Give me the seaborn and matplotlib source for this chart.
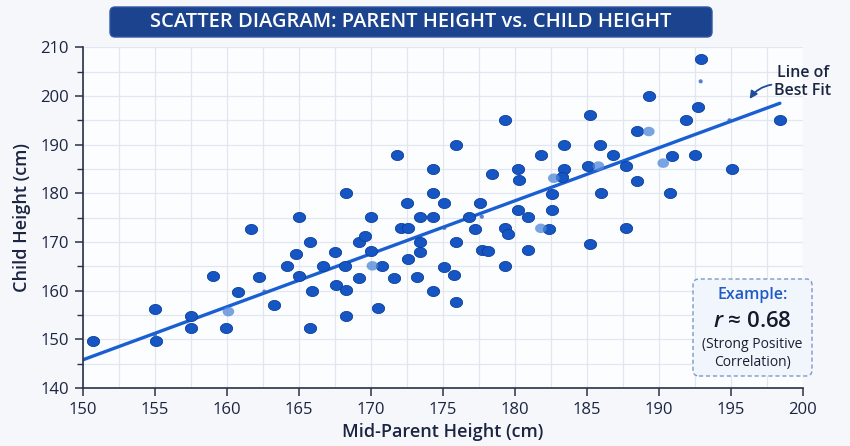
import matplotlib.pyplot as plt
import numpy as np
import seaborn as sns
import pandas as pd
from matplotlib.path import Path
from matplotlib.patches import FancyBboxPatch
from matplotlib.ticker import MultipleLocator

# ===== data =====
parent_height = [150.7, 155.0, 155.1, 157.5, 157.5, 159.0, 159.9, 160.8, 161.7, 162.2,
                 163.3, 164.2, 164.8, 165.0, 165.8, 165.0, 165.9, 165.8, 166.7, 167.5,
                 167.6, 168.3, 168.2, 168.3, 168.3, 169.2, 169.2, 169.6, 170.0, 170.0,
                 170.8, 170.5, 171.6, 171.8, 172.1, 172.6, 172.5, 172.6, 173.2, 173.4,
                 173.4, 173.4, 174.3, 174.3, 174.3, 174.3, 175.1, 175.1, 175.9, 175.9,
                 175.8, 175.9, 176.8, 177.6, 177.2, 177.7, 178.1, 178.4, 179.3, 179.3,
                 179.5, 179.3, 180.2, 180.3, 180.2, 180.9, 180.9, 181.8, 182.4, 183.4,
                 183.4, 183.3, 182.6, 182.6, 185.2, 185.1, 185.9, 186.8, 187.7, 186.0,
                 188.5, 187.7, 185.2, 188.5, 189.3, 190.9, 190.8, 191.9, 192.5, 192.7,
                 192.9, 195.1, 198.4]
child_height = [149.7, 156.2, 149.6, 154.7, 152.4, 163.0, 152.3, 159.8, 172.7, 162.8,
                157.1, 165.1, 167.6, 175.1, 170.0, 163.1, 160.0, 152.4, 165.0, 168.0,
                161.2, 180.0, 165.1, 160.1, 154.8, 162.7, 170.0, 171.3, 175.1, 168.1,
                165.0, 156.4, 162.7, 187.8, 172.8, 172.8, 178.0, 166.6, 162.8, 175.1,
                169.9, 168.0, 184.9, 180.0, 175.1, 160.0, 178.0, 164.8, 189.9, 169.9,
                163.2, 157.7, 175.2, 178.0, 172.7, 168.3, 168.1, 184.0, 195.0, 172.8,
                171.7, 165.1, 185.0, 182.7, 176.6, 175.1, 168.3, 187.8, 172.7, 190.0,
                184.9, 183.3, 179.9, 176.6, 196.1, 185.7, 189.9, 187.9, 185.6, 180.0,
                182.6, 172.8, 169.5, 192.7, 199.9, 187.7, 180.0, 195.0, 187.8, 197.8,
                207.5, 185.0, 195.0]

# lighter, blurred points
faint_parent = [160.1, 170.1, 181.8, 182.7, 189.3, 190.3, 185.8]
faint_child = [155.7, 165.1, 172.8, 183.1, 192.7, 186.2, 185.6]

# tiny specks
tiny_parent = [155.0, 162.6, 177.7, 175.1, 192.9, 194.9]
tiny_child = [150.8, 159.8, 175.2, 172.9, 203.0, 195.0]

# line of best fit (end points)
fit_x = [150.0, 198.4]
fit_y = [145.8, 198.5]

x_ticks = [150, 155, 160, 165, 170, 175, 180, 185, 190, 195, 200]
y_ticks = [140, 150, 160, 170, 180, 190, 200, 210]
r_value = 0.68

points = pd.DataFrame({'parent': parent_height, 'child': child_height})
faint = pd.DataFrame({'parent': faint_parent, 'child': faint_child})
tiny = pd.DataFrame({'parent': tiny_parent, 'child': tiny_child})
fit = pd.DataFrame({'parent': fit_x, 'child': fit_y})

# ===== style =====
sns.set_theme(style="white")
plt.rcParams['font.family'] = ['Open Sans', 'DejaVu Sans']
plt.rcParams['mathtext.fontset'] = 'custom'
plt.rcParams['mathtext.it'] = 'Open Sans:italic:semibold'
plt.rcParams['mathtext.rm'] = 'Open Sans'

navy = '#1b2542'
dot = '#1556c4'
dot_edge = '#0d3e98'

fig = plt.figure(figsize=(8.5, 4.46), dpi=100, facecolor='#f5f7fb')
ax = fig.add_axes([0.0976, 0.130, 0.847, 0.764])
ax.set_facecolor('#fcfdff')

# ellipse marker, a bit wider than tall
t = np.linspace(0, 2 * np.pi, 41)
ellipse = Path(np.column_stack([np.cos(t), 0.82 * np.sin(t)]))

sns.lineplot(data=fit, x='parent', y='child', color='#1a5fd2', linewidth=2.4, ax=ax, zorder=2)
sns.scatterplot(data=points, x='parent', y='child', marker=ellipse, s=78,
                color=dot, edgecolor=dot_edge, linewidth=0.6, ax=ax, zorder=3)
sns.scatterplot(data=faint, x='parent', y='child', marker=ellipse, s=70,
                color='#4f86d8', edgecolor='none', alpha=0.75, ax=ax, zorder=3)
sns.scatterplot(data=tiny, x='parent', y='child', marker='o', s=9,
                color='#2c62c4', edgecolor='none', alpha=0.8, ax=ax, zorder=3)

# axes, ticks, grid
ax.set_xlim(150, 200)
ax.set_ylim(140, 210)
ax.set_xticks(x_ticks)
ax.set_yticks(y_ticks)
ax.xaxis.set_minor_locator(MultipleLocator(2.5))
ax.yaxis.set_minor_locator(MultipleLocator(5))
ax.grid(True, which='both', color='#e1e7f0', linewidth=0.9)
ax.set_axisbelow(True)
ax.tick_params(axis='both', which='major', direction='out', length=6, width=1.1,
               color='#2a3147', labelsize=12, labelcolor=navy, pad=4,
               bottom=True, left=True)
ax.tick_params(axis='y', which='minor', direction='out', length=4, width=1.0,
               color='#2a3147', left=True)
ax.tick_params(axis='x', which='minor', length=0)
for side in ['top', 'right']:
    ax.spines[side].set_visible(False)
for side in ['left', 'bottom']:
    ax.spines[side].set_color('#2a3147')
    ax.spines[side].set_linewidth(1.2)

ax.set_xlabel('Mid-Parent Height (cm)', fontsize=13, color=navy, fontweight='semibold', labelpad=4)
ax.set_ylabel('Child Height (cm)', fontsize=13, color=navy, fontweight='semibold', labelpad=7)

# line of best fit label
ax.annotate('', xy=(196.2, 198.9), xytext=(198.0, 202.4),
            arrowprops=dict(arrowstyle='-|>', color='#1e4b9c', lw=1.3,
                            connectionstyle='arc3,rad=0.25', mutation_scale=11),
            annotation_clip=False)
ax.text(200.0, 202.8, 'Line of\nBest Fit', fontsize=11.5, color=navy, fontweight='semibold',
        ha='center', va='center', linespacing=1.15, clip_on=False)

# title banner
title_box = FancyBboxPatch((1.10, 4.09), 6.02, 0.30, boxstyle='round,pad=0,rounding_size=0.05',
                           transform=fig.dpi_scale_trans, facecolor='#1b438e',
                           edgecolor='#2f57a3', linewidth=1.0)
fig.patches.append(title_box)
fig.text(4.11, 4.24, 'SCATTER DIAGRAM: PARENT HEIGHT vs. CHILD HEIGHT', transform=fig.dpi_scale_trans,
         ha='center', va='center', fontsize=14.5, color='white', fontweight='semibold')

# example box
ex_box = FancyBboxPatch((6.93, 0.70), 1.19, 0.97, boxstyle='round,pad=0,rounding_size=0.06',
                        transform=fig.dpi_scale_trans, facecolor='#f1f5fc',
                        edgecolor='#7f98c8', linewidth=1.0, linestyle=(0, (3, 2)))
fig.patches.append(ex_box)
fig.text(7.525, 1.51, 'Example:', transform=fig.dpi_scale_trans, ha='center', va='center',
         fontsize=11.5, color='#1f5bc7', fontweight='semibold')
fig.text(7.525, 1.245, '$\\mathit{r}$ \u2248 %.2f' % r_value, transform=fig.dpi_scale_trans,
         ha='center', va='center', fontsize=16, color='#16192a', fontweight='semibold')
fig.text(7.525, 0.925, '(Strong Positive\nCorrelation)', transform=fig.dpi_scale_trans,
         ha='center', va='center', fontsize=10, color='#1b2030', linespacing=1.2)

plt.savefig('out.png', dpi=100, facecolor=fig.get_facecolor())
